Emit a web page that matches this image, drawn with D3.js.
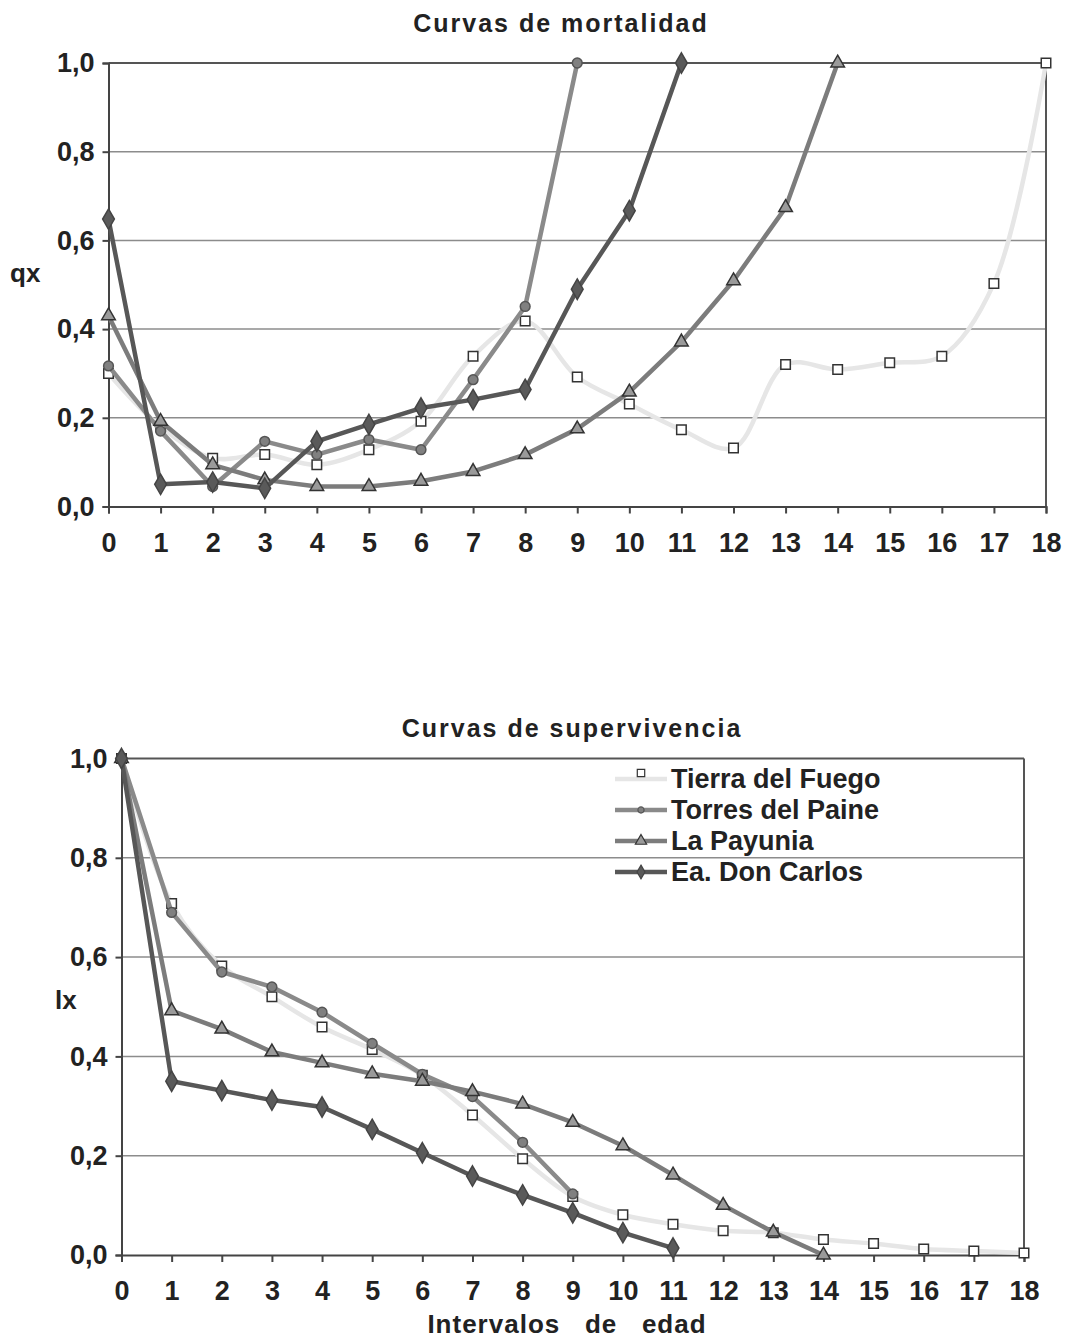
<!DOCTYPE html>
<html>
<head>
<meta charset="utf-8">
<script src="https://cdn.jsdelivr.net/npm/d3@7"></script>
<style>
  body { margin: 0; background: #fff; }
  text { font-family: "Liberation Sans", Arial, sans-serif; font-weight: bold; fill: #222; }
</style>
</head>
<body>
<div id="chart"></div>
<script>
// age intervals (x categories)
const ages = [0, 1, 2, 3, 4, 5, 6, 7, 8, 9, 10, 11, 12, 13, 14, 15, 16, 17, 18];
const yTicks = [0, 0.2, 0.4, 0.6, 0.8, 1.0];
const seriesNames = ["Tierra del Fuego", "Torres del Paine", "La Payunia", "Ea. Don Carlos"];

// mortality qx
const qxTierraFuego = [0.30, 0.18, 0.109, 0.117, 0.094, 0.128, 0.192, 0.339, 0.418, 0.292, 0.231, 0.173, 0.132, 0.32, 0.309, 0.324, 0.339, 0.503, 1.0];
const qxTorresPaine = [0.317, 0.17, 0.045, 0.147, 0.117, 0.151, 0.128, 0.286, 0.451, 1.0];
const qxPayunia = [0.43, 0.192, 0.094, 0.06, 0.045, 0.045, 0.057, 0.079, 0.117, 0.175, 0.258, 0.371, 0.509, 0.674, 1.0];
const qxDonCarlos = [0.648, 0.05, 0.055, 0.041, 0.147, 0.185, 0.222, 0.241, 0.264, 0.49, 0.667, 1.0];

// survivorship lx
const lxTierraFuego = [1, 0.708, 0.582, 0.52, 0.459, 0.414, 0.362, 0.282, 0.194, 0.118, 0.081, 0.062, 0.049, 0.045, 0.031, 0.023, 0.012, 0.008, 0.004];
const lxTorresPaine = [1, 0.69, 0.57, 0.54, 0.489, 0.426, 0.364, 0.319, 0.227, 0.123];
const lxPayunia = [1, 0.492, 0.455, 0.409, 0.387, 0.365, 0.35, 0.329, 0.304, 0.267, 0.22, 0.161, 0.10, 0.046, 0.0];
const lxDonCarlos = [1, 0.35, 0.331, 0.312, 0.298, 0.253, 0.206, 0.159, 0.121, 0.085, 0.045, 0.014];

const styles = [
  { line: "#e6e6e6", symbol: d3.symbolSquare, size: 90, fill: "#fff", stroke: "#333", smooth: true },
  { line: "#8a8a8a", symbol: d3.symbolCircle, size: 75, fill: "#808080", stroke: "#555", smooth: false },
  { line: "#7c7c7c", symbol: d3.symbolTriangle, size: 80, fill: "#9a9a9a", stroke: "#333", smooth: false },
  { line: "#575757", symbol: d3.symbolDiamond, size: 120, fill: "#5a5a5a", stroke: "#444", smooth: false }
];

const svg = d3.select("#chart").append("svg")
  .attr("width", 1067)
  .attr("height", 1338);

const fmt = d => d.toFixed(1).replace(".", ",");

function drawChart(opts) {
  const x = d3.scaleLinear().domain([0, 18]).range([opts.left, opts.right]);
  const y = d3.scaleLinear().domain([0, 1]).range([opts.bottom, opts.top]);
  const g = svg.append("g");

  // gridlines
  g.selectAll(".grid")
    .data(yTicks.slice(1))
    .join("line")
      .attr("x1", opts.left).attr("x2", opts.right)
      .attr("y1", d => y(d)).attr("y2", d => y(d))
      .attr("stroke", d => d === 1 ? "#555" : "#8c8c8c")
      .attr("stroke-width", d => d === 1 ? 2 : 1.5);

  // right frame
  g.append("line")
    .attr("x1", opts.right).attr("x2", opts.right)
    .attr("y1", opts.top).attr("y2", opts.bottom)
    .attr("stroke", "#555").attr("stroke-width", 2);

  const yAxis = g.append("g")
    .attr("transform", "translate(" + opts.left + ",0)")
    .call(d3.axisLeft(y).tickValues(yTicks).tickFormat(fmt).tickSize(6).tickPadding(8));
  const xAxis = g.append("g")
    .attr("transform", "translate(0," + opts.bottom + ")")
    .call(d3.axisBottom(x).tickValues(ages).tickFormat(d => d).tickSize(7).tickPadding(19));

  [yAxis, xAxis].forEach(a => {
    a.select(".domain").attr("stroke", "#444").attr("stroke-width", 2);
    a.selectAll(".tick line").attr("stroke", "#444").attr("stroke-width", 2);
    a.selectAll(".tick text")
      .attr("fill", "#222")
      .style("font-family", "'Liberation Sans', Arial, sans-serif")
      .style("font-weight", "bold")
      .style("font-size", "27px");
  });

  // series
  opts.series.forEach((vals, i) => {
    const st = styles[i];
    const pts = vals.map((v, j) => [ages[j], v]);
    const line = d3.line()
      .x(d => x(d[0])).y(d => y(d[1]))
      .curve(st.smooth ? d3.curveCatmullRom.alpha(0.5) : d3.curveLinear);
    g.append("path")
      .attr("d", line(pts))
      .attr("fill", "none")
      .attr("stroke", st.line)
      .attr("stroke-width", 4.5)
      .attr("stroke-linejoin", "round");
    g.selectAll(".m" + i)
      .data(pts)
      .join("path")
        .attr("transform", d => "translate(" + x(d[0]) + "," + y(d[1]) + ")")
        .attr("d", d3.symbol().type(st.symbol).size(st.size))
        .attr("fill", st.fill)
        .attr("stroke", st.stroke)
        .attr("stroke-width", 1.5);
  });

  // titles
  svg.append("text")
    .attr("x", opts.titleX).attr("y", opts.titleY)
    .attr("text-anchor", "middle")
    .style("font-size", "25px")
    .style("letter-spacing", "2px")
    .text(opts.title);
  svg.append("text")
    .attr("x", opts.yLabelX).attr("y", opts.yLabelY)
    .style("font-size", "26px")
    .text(opts.yLabel);
  return { x, y };
}

drawChart({
  left: 108.5, right: 1046, top: 63, bottom: 506.5,
  series: [qxTierraFuego, qxTorresPaine, qxPayunia, qxDonCarlos],
  title: "Curvas de mortalidad", titleX: 561, titleY: 32,
  yLabel: "qx", yLabelX: 10, yLabelY: 282
});

drawChart({
  left: 121.5, right: 1024, top: 758.5, bottom: 1255,
  series: [lxTierraFuego, lxTorresPaine, lxPayunia, lxDonCarlos],
  title: "Curvas de supervivencia", titleX: 572, titleY: 737,
  yLabel: "lx", yLabelX: 55, yLabelY: 1009
});

// x axis title
svg.append("text")
  .attr("x", 567).attr("y", 1333)
  .attr("text-anchor", "middle")
  .style("font-size", "26px")
  .style("letter-spacing", "1px")
  .style("white-space", "pre")
  .text("Intervalos   de   edad");

// legend
const legend = svg.append("g").attr("transform", "translate(615,779)");
seriesNames.forEach((name, i) => {
  const st = styles[i];
  const row = legend.append("g").attr("transform", "translate(0," + i * 31 + ")");
  row.append("line")
    .attr("x1", 0).attr("x2", 52)
    .attr("stroke", st.line).attr("stroke-width", 4.5);
  row.append("path")
    .attr("transform", i === 0 ? "translate(26,-6)" : "translate(26,0)")
    .attr("d", d3.symbol().type(st.symbol).size(i === 1 ? 30 : 55))
    .attr("fill", st.fill)
    .attr("stroke", st.stroke)
    .attr("stroke-width", 1.2);
  row.append("text")
    .attr("x", 56).attr("y", 9)
    .style("font-size", "27px")
    .text(name);
});
</script>
</body>
</html>
